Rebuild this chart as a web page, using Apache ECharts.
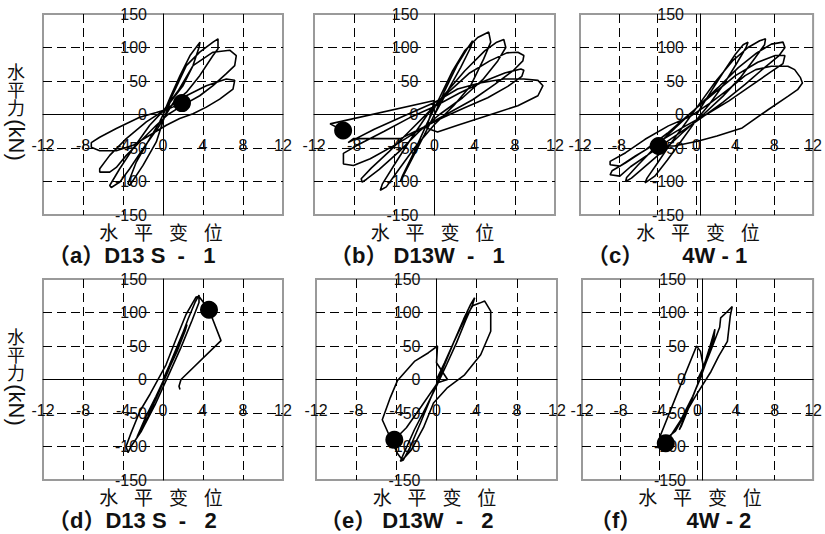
<!DOCTYPE html>
<html><head><meta charset="utf-8">
<script src="https://cdn.jsdelivr.net/npm/echarts@6/dist/echarts.min.js"></script>
<style>html,body{margin:0;padding:0;background:#fff}#c{width:825px;height:534px}</style>
</head><body><div id="c"></div>
<script>
// ---------- data (displacement, horizontal force kN) ----------
const panelTitles = ['（a）D13 S  -   1', '（b） D13W  -   1', '（c）　　 4W - 1',
                     '（d）D13 S  -   2', '（e） D13W  -   2', '（f）　　  4W - 2'];
const xAxisTitle = '水   平   变   位';
const yAxisTitleCJK = '水\n平\n力';
const yAxisTitleUnit = '(kN)';
const xTickRange = [-12, 12, 4];
const yTickRange = [-150, 150, 50];

const loopA = [[0,0],[0.7,25],[1.7,58],[2.7,88],[3.7,108],
 [3.6,100],[3,73],[2,43],[0.7,18],[0,-10],[-0.67,-41],[-2,-76],[-3.33,-106],
 [-3.5,-103],[-2.67,-71],[-1.33,-36],[-0.33,-11],[0.5,15],[1.3,40],[2.33,73],[3.67,93],[5,108],[5.5,113],
 [5.5,98],[5,88],[3.67,58],[2.33,33],[1,17],[-0.5,-20],[-2,-51],[-3.33,-81],[-4.33,-101],[-5.17,-109],
 [-5.33,-106],[-4.33,-81],[-3,-51],[-1.33,-16],[0,5],[1.5,35],[3,73],[5,93],[6.67,96],[7.33,88],
 [7.17,73],[6.33,61],[5,43],[3.67,28],[2,14],[0.5,0],[-0.67,-16],[-2.33,-41],[-3.67,-61],[-4.67,-79],[-5.33,-86],[-6.33,-86],
 [-6.33,-81],[-5.33,-61],[-3.67,-36],[-1.67,-11],[0.3,8],[2.33,28],[4.33,43],[6.33,53],[7.17,51],
 [7,38],[5.67,23],[4.33,11],[3,1],[1.67,-6],[0.33,-16],[-1.33,-31],[-3,-46],[-4.67,-54],[-6.33,-54],[-7.17,-49],
 [-7.17,-42],[-6.33,-34],[-4.67,-21],[-2.33,-4],[-0.67,3],[0.5,8],[1.9,17]];
const dotA = [[1.9,17]];

const loopB = [[0,0],[1,35],[2.3,75],[3.2,97],[3.8,110],
 [3.6,100],[2.6,70],[1.3,35],[0,0],[-1,-30],[-2.2,-65],[-3.4,-100],
 [-3.2,-92],[-2,-55],[-0.8,-15],[0.5,25],[1.8,65],[3,95],[4.3,115],[5.4,123],
 [5.6,108],[4.9,83],[3.6,43],[1.9,13],[0,-15],[-2,-50],[-3.7,-85],[-4.8,-108],[-5.4,-113],
 [-5.2,-104],[-4,-75],[-2.5,-40],[-0.7,0],[1,30],[3,65],[5,95],[6.2,108],[6.9,112],
 [7.1,100],[6.3,80],[4.8,52],[2.8,25],[0.5,0],[-1.5,-25],[-3.5,-55],[-5.5,-82],[-6.8,-97],[-7.2,-101],
 [-7.3,-96],[-6.3,-80],[-4.5,-55],[-2.5,-25],[-0.5,5],[1.5,35],[3.5,62],[5.5,80],[7.2,92],[8.3,93],[8.9,88],
 [8.8,80],[7.8,65],[6,45],[3.8,22],[1.5,3],[-1,-18],[-3.5,-42],[-6.4,-66],[-8.07,-76],[-9.07,-74],
 [-9.07,-58],[-7.7,-46],[-5,-25],[-2.5,-5],[0,12],[2.5,32],[5,50],[7,62],[8.6,68],[8.9,66],
 [8.7,57],[7.3,42],[5.3,25],[3,10],[0.8,-5],[-1.5,-22],[-3.4,-36],[-8.07,-36],[-8.6,-42],
 [-6,-22],[-3,-2],[0,18],[2.3,38],[4.5,47],[6.9,53],[8.9,53],[10.3,51],[10.8,43],
 [10.3,28],[8.3,13],[6.3,3.5],[4.3,-6.5],[2.3,-16],[0.3,-26],[-0.8,-20],[-0.3,5],[0,21],[-10.4,-14],[-9.1,-24]];
const dotB = [[-9.1,-24]];

const loopC = [[0,0],[1.3,30],[2.7,62],[4,90],[4.8,104],[5.3,108],
 [5.1,100],[4.2,78],[2.8,45],[1.3,15],[0,-8],[-1.5,-38],[-3,-68],[-4.3,-92],[-5.3,-102],
 [-5.1,-95],[-4,-72],[-2.6,-42],[-1,-10],[0.5,20],[2,50],[3.7,80],[5.3,100],[6.5,110],[7.1,113],
 [7,104],[6,84],[4.5,55],[2.7,27],[0.7,0],[-1.5,-28],[-3.5,-55],[-5.5,-80],[-6.7,-95],[-7.3,-100],
 [-7.2,-94],[-6,-75],[-4.2,-48],[-2.2,-20],[0,10],[2.2,40],[4.3,70],[6.2,92],[7.7,105],[8.9,108],
 [9.1,100],[8.5,88],[7,70],[5,45],[2.7,18],[0.5,-5],[-2,-30],[-4.5,-55],[-6.8,-78],[-7.9,-92],[-8.9,-90],
 [-8.7,-84],[-7.3,-72],[-5.2,-52],[-3,-28],[-0.8,0],[1.5,28],[4,58],[6.3,78],[8.1,88],[9.1,88],
 [8.9,76],[7.5,62],[5.5,42],[3.3,20],[1,0],[-1.5,-20],[-4,-42],[-6.3,-62],[-7.9,-77],[-8.9,-75],
 [-8.9,-70],[-7.3,-57],[-5.3,-37],[-2.9,-17],[-0.6,-2.5],[1.5,18],[3.5,40],[5,58],[6.1,67],[7.7,72],[9.4,72],[10.1,67],[10.7,55],[10.9,47],
 [10.4,37],[9.4,27],[7.4,7.5],[4.7,-20],[2.1,-32],[0.1,-40],[-2.3,-47],[-3.9,-47]];
const dotC = [[-3.9,-47]];

const loopD = [[0,0],[0.6,20],[1.3,45],[2,70],[2.4,82],
 [2.2,72],[1.4,42],[0.4,10],[-0.7,-25],[-1.7,-55],[-2.6,-86],
 [-2.4,-82],[-1.5,-55],[-0.5,-22],[0.5,12],[1.5,50],[2.5,90],[3.2,115],[3.6,126],
 [3.6,115],[2.9,88],[1.8,48],[0.6,8],[-0.8,-38],[-2.2,-78],[-3.2,-100],[-3.5,-109],
 [-3.7,-100],[-3.2,-80],[-2.3,-47],[-1.3,-22],[0.3,22],[1.3,60],[2.3,97],[3.3,123],[3.6,124],
 [4.6,104],[5.8,58],[1.8,0],[1.6,-10],[1.7,-15]];
const dotD = [[4.6,104]];

const loopE = [[0,0],[0.8,25],[1.7,55],[2.7,90],[3.4,112],[3.8,122],
 [3.6,112],[2.9,88],[2,55],[1,22],[0,-10],[-1,-40],[-2.2,-75],[-3.1,-105],[-3.6,-122],
 [-3.3,-120],[-2.6,-100],[-1.6,-65],[-0.5,-25],[0.6,15],[1.7,55],[2.8,90],[3.6,110],[4.3,114],[4.8,117],
 [5.4,102],[5.4,72],[4.4,37],[2.8,7],[1.1,-12],[-0.3,-35],[-1.3,-72],[-2.5,-105],[-3.4,-120],
 [-3.9,-110],[-4.6,-87],[-5.4,-60],[-4.6,-27],[-3.9,-2],[-2.2,27],[-0.8,40],[0.1,50],[0,25],[1.1,0],[0.1,-5],
 [-1.5,-40],[-3,-72],[-4.2,-90]];
const dotE = [[-4.2,-90]];

const loopF = [[0,0],[0.6,18],[1.2,45],[1.7,70],[1.8,75],
 [1.7,62],[1.2,38],[0.5,10],[-0.3,-18],[-1.1,-48],[-1.9,-75],
 [-1.7,-70],[-1,-45],[-0.2,-15],[0.6,15],[1.5,48],[2.3,78],[2.4,92],[3,100],[3.6,109],
 [3.4,95],[3.1,57],[2.2,35],[1.4,12],[-0.3,-27],[-2.3,-77],[-3.6,-92],[-3.9,-85],
 [-2,-17],[-0.1,50],[0.3,42],[0.6,20],[0.4,5],[-0.5,-25],[-1.8,-62],[-3.3,-95]];
const dotF = [[-3.3,-95]];

const loops = [loopA, loopB, loopC, loopD, loopE, loopF];
const dots = [dotA, dotB, dotC, dotD, dotE, dotF];

// ---------- layout ----------
const boxes = [
  {left:43, top:14, width:240, height:201},
  {left:314, top:14, width:241, height:201},
  {left:580, top:14, width:240, height:201},
  {left:43, top:279, width:240, height:201},
  {left:316, top:279, width:241, height:201},
  {left:582, top:279, width:240, height:201}
];
const titlePos = [[48,255],[330,255],[587,255],[48,520],[320,520],[590,520]];
const LAT = '"Liberation Sans", Arial, sans-serif';
const CJK = '"Liberation Sans", "Noto Sans CJK SC", sans-serif';
const dash = [9, 5];

const chart = echarts.init(document.getElementById('c'), null, {renderer: 'svg'});
const grid = [], xAxis = [], yAxis = [], series = [], graphic = [];
boxes.forEach((b, i) => {
  grid.push({left: b.left, top: b.top, width: b.width, height: b.height, show: true,
    borderColor: '#9a9a9a', borderWidth: 2, backgroundColor: 'rgba(0,0,0,0)'});
  xAxis.push({gridIndex: i, type: 'value', min: xTickRange[0], max: xTickRange[1], interval: xTickRange[2],
    position: 'bottom', offset: -b.height / 2,
    axisLine: {onZero: false, lineStyle: {color: '#000', width: 1}},
    axisTick: {show: false},
    axisLabel: {margin: 23, fontSize: 16, color: '#111', fontFamily: LAT, showMinLabel: true, showMaxLabel: true, hideOverlap: false},
    splitLine: {show: true, showMinLine: false, showMaxLine: false, lineStyle: {color: '#000', type: dash, width: 1}}});
  yAxis.push({gridIndex: i, type: 'value', min: yTickRange[0], max: yTickRange[1], interval: yTickRange[2],
    position: 'left', offset: -b.width / 2,
    axisLine: {onZero: false, lineStyle: {color: '#000', width: 1}},
    axisTick: {show: false},
    axisLabel: {margin: 16, fontSize: 16, color: '#111', fontFamily: LAT, showMinLabel: true, showMaxLabel: true, hideOverlap: false},
    splitLine: {show: true, showMinLine: false, showMaxLine: false, lineStyle: {color: '#000', type: dash, width: 1}}});
  series.push({type: 'line', xAxisIndex: i, yAxisIndex: i, data: loops[i], showSymbol: false, symbol: 'none',
    lineStyle: {color: '#000', width: 1.6}, silent: true, animation: false, z: 3});
  series.push({type: 'scatter', xAxisIndex: i, yAxisIndex: i, data: dots[i], symbolSize: 18,
    itemStyle: {color: '#000', opacity: 1}, silent: true, animation: false, z: 4});
  const zeroX = b.left + b.width / 2;
  graphic.push({type: 'text', x: zeroX - 2, y: b.top + b.height + 18, silent: true,
    style: {text: xAxisTitle, font: '19px ' + CJK, fill: '#111', align: 'center', verticalAlign: 'middle'}});
  graphic.push({type: 'text', x: titlePos[i][0], y: titlePos[i][1], silent: true,
    style: {text: panelTitles[i], font: 'bold 22px ' + CJK, fill: '#111', align: 'left', verticalAlign: 'middle'}});
});
[0, 265].forEach(off => {
  graphic.push({type: 'text', x: 16, y: 62 + off, silent: true,
    style: {text: yAxisTitleCJK, font: '18px "Noto Sans CJK SC", sans-serif', lineHeight: 18, fill: '#111', align: 'center', verticalAlign: 'top'}});
  graphic.push({type: 'text', x: 16, y: 140 + off, rotation: -Math.PI / 2, silent: true,
    style: {text: yAxisTitleUnit, font: '22px ' + LAT, fill: '#111', align: 'center', verticalAlign: 'middle'}});
});

chart.setOption({animation: false, backgroundColor: '#fff', grid, xAxis, yAxis, series, graphic});
</script></body></html>
